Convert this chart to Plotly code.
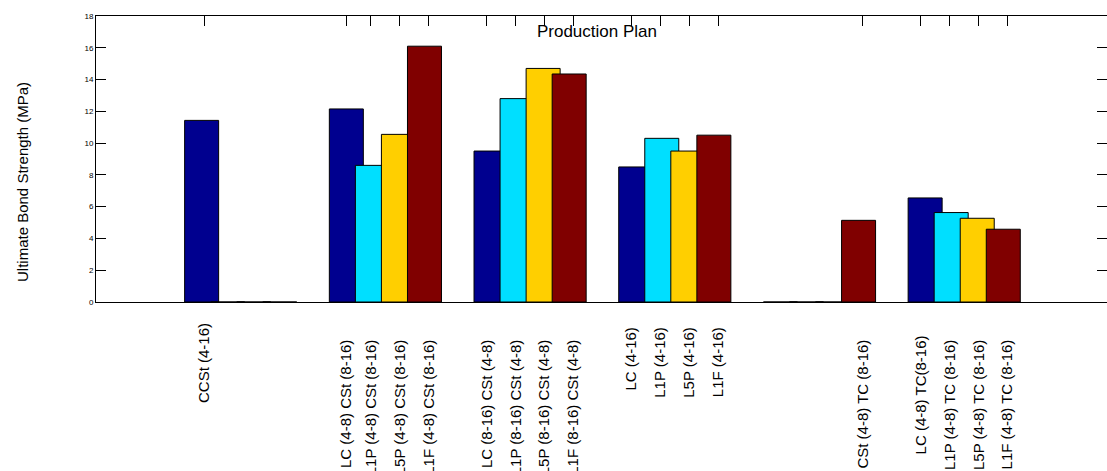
import plotly.graph_objects as go

# ---------------- data ----------------
group_index = [1, 2, 3, 4, 5, 6]
series_1 = [11.43, 12.15, 9.5, 8.5, 0.0, 6.55]
series_2 = [0.0, 8.6, 12.8, 10.3, 0.0, 5.63]
series_3 = [0.0, 10.55, 14.7, 9.5, 0.0, 5.27]
series_4 = [0.0, 16.1, 14.35, 10.5, 5.14, 4.58]

tick_labels = [
    "CCSt (4-16)",
    "LC (4-8) CSt (8-16)", "L1P (4-8) CSt (8-16)", "L5P (4-8) CSt (8-16)", "L1F (4-8) CSt (8-16)",
    "LC (8-16) CSt (4-8)", "L1P (8-16) CSt (4-8)", "L5P (8-16) CSt (4-8)", "L1F (8-16) CSt (4-8)",
    "LC (4-16)", "L1P (4-16)", "L5P (4-16)", "L1F (4-16)",
    "CSt (4-8) TC (8-16)",
    "LC (4-8) TC(8-16)", "L1P (4-8) TC (8-16)", "L5P (4-8) TC (8-16)", "L1F (4-8) TC (8-16)",
]
tick_group = [1, 2, 2, 2, 2, 3, 3, 3, 3, 4, 4, 4, 4, 5, 6, 6, 6, 6]
tick_slot = [0, 0, 1, 2, 3, 0, 1, 2, 3, 0, 1, 2, 3, 3, 0, 1, 2, 3]

y_title = "Ultimate Bond Strength (MPa)"
chart_title = "Production Plan"

# ---------------- layout / style ----------------
colors = ["#00008F", "#00DFFF", "#FFCF00", "#800000"]
bar_offsets = [-0.27, -0.09, 0.09, 0.27]
bar_width = 0.235
tick_offsets = [-0.3, -0.1, 0.1, 0.3]
FONT = "Liberation Sans, Arial, Helvetica, sans-serif"

tick_vals = []
for g, s in zip(tick_group, tick_slot):
    off = tick_offsets[s]
    if g == 1:
        off = -0.25
    if g == 2 and s == 0:
        off = -0.27
    tick_vals.append(g + off)

pad_by_group = {1: 0, 2: 4, 3: 4, 4: 1, 5: 4, 6: 4}
tick_text = []
for lab, g in zip(tick_labels, tick_group):
    n = pad_by_group[g]
    if lab == "LC (4-8) TC(8-16)":
        n = 3
    tick_text.append(lab + "\u00a0" * n)

fig = go.Figure()
for vals, col, off in zip([series_1, series_2, series_3, series_4], colors, bar_offsets):
    fig.add_trace(go.Bar(
        x=[g + off for g in group_index],
        y=vals,
        width=bar_width,
        marker=dict(color=col, line=dict(color="black", width=1)),
        hoverinfo="skip",
        showlegend=False,
    ))

fig.update_layout(
    template="none",
    width=1107, height=471,
    margin=dict(l=96, r=0, t=16, b=169, pad=0),
    paper_bgcolor="white", plot_bgcolor="white",
    barmode="overlay",
    font=dict(family=FONT, color="black"),
    title=dict(text=chart_title, x=0.4955, xref="paper", xanchor="center",
               y=1 - 31 / 471, yref="container", yanchor="middle",
               font=dict(family=FONT, size=17, color="black")),
    xaxis=dict(
        range=[0, 1011 / 144.7], showgrid=False, zeroline=False,
        showline=True, linecolor="black", linewidth=1, mirror="ticks",
        ticks="inside", ticklen=10, tickcolor="black", tickwidth=1,
        tickmode="array", tickvals=tick_vals, ticktext=tick_text,
        tickangle=-90, tickfont=dict(family=FONT, size=15, color="black"),
        ticklabelstandoff=14, layer="below traces", automargin=False,
    ),
    yaxis=dict(
        range=[0, 18], showgrid=False, zeroline=False,
        showline=True, linecolor="black", linewidth=1, mirror="ticks",
        ticks="inside", ticklen=10, tickcolor="black", tickwidth=1,
        tickmode="array", tickvals=list(range(0, 19, 2)),
        tickfont=dict(family=FONT, size=8, color="black"),
        automargin=False,
    ),
    annotations=[dict(
        text=y_title, textangle=-90, showarrow=False,
        xref="paper", yref="paper", x=(22 - 96) / 1011, y=(302 - 182) / 286,
        xanchor="center", yanchor="middle",
        font=dict(family=FONT, size=15, color="black"),
    )],
)

fig.write_html("out.html")
